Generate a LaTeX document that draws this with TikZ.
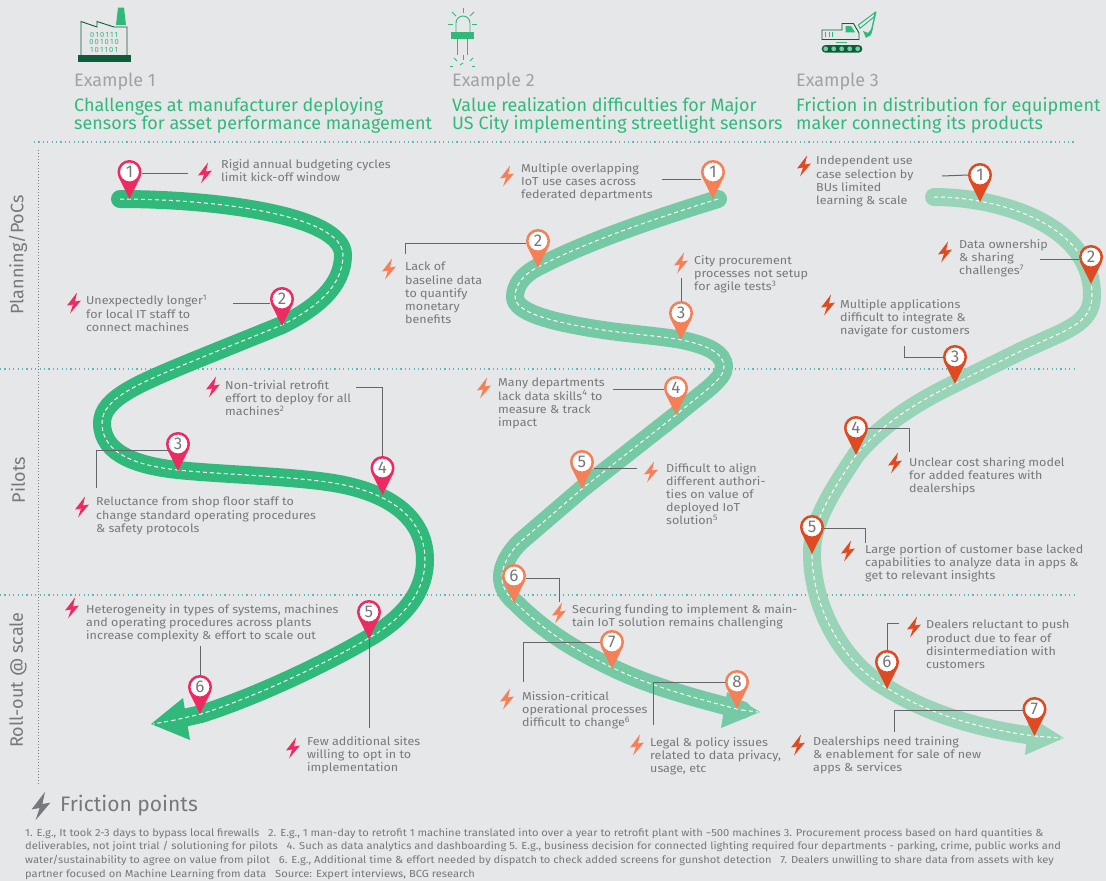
\documentclass[tikz,border=0pt]{standalone}
\usepackage{fontspec}
\setmainfont{Fira Sans}
\newfontfamily\widefont[FakeStretch=1.09]{Fira Sans}

\definecolor{paper}{HTML}{E6E7E8}
\definecolor{roadone}{HTML}{30B97B}
\definecolor{roadtwo}{HTML}{75C9A4}
\definecolor{roadthree}{HTML}{99D4B9}
\definecolor{pinone}{HTML}{EE2A62}
\definecolor{pintwo}{HTML}{F58058}
\definecolor{pinthree}{HTML}{E04A23}
\definecolor{notegray}{HTML}{77787B}
\definecolor{headgray}{HTML}{A0A2A5}
\definecolor{leafdark}{HTML}{0F5C3A}
\definecolor{sepline}{HTML}{5FB5B8}

\tikzset{
  road/.style={line width=18pt, line cap=round, postaction={lane}},
  lane/.style={draw=white, line width=1pt, line cap=butt, dash pattern=on 4pt off 3pt},
  leader/.style={draw=notegray!85!black, line width=1pt},
  pinhead/.style={circle, fill=white, line width=2.5pt, minimum size=21.5pt, inner sep=0pt,
    text=notegray, font=\fontsize{17}{17}\selectfont},
  note/.style={anchor=north west, inner sep=0pt, align=left, text=notegray,
    font=\widefont\fontsize{11.5}{13.2}\selectfont},
  exhead/.style={anchor=west, inner sep=0pt, text=headgray, font=\fontsize{18}{18}\selectfont},
  extitle/.style={anchor=north west, inner sep=0pt, align=left, text=roadone,
    font=\fontsize{17.95}{18.4}\selectfont},
  phase/.style={rotate=90, inner sep=0pt, text=notegray, font=\fontsize{18}{18}\selectfont},
  sep/.style={draw=sepline, line width=1.2pt, dash pattern=on 1.2pt off 3.2pt},
  pics/bolt/.style={code={
    \fill[#1] (3,-10.5) -- (-7,2.5) -- (-1,1.5) -- (-4,10.5) -- (7,-2.5) -- (1,-1.5) -- cycle;}},
}

\newcommand{\pinmark}[5]{%
  \fill[#4] (#2-10.8,#3+5.3) -- (#2,#3+27) -- (#2+10.8,#3+5.3) -- cycle;
  \coordinate (#1t) at (#2,#3+27);
  \node[pinhead, draw=#4] (#1) at (#2,#3) {#5};}

\begin{document}
\begin{tikzpicture}[x=1pt, y=-1pt]

  \fill[paper] (0,0) rectangle (1106,881);
  \useasboundingbox (0,0) rectangle (1106,881);

  % rows
  \coordinate (s0a) at (34,142);   \coordinate (s0b) at (1075,142);
  \coordinate (s1a) at (0,369);    \coordinate (s1b) at (1075,369);
  \coordinate (s2a) at (0,595);    \coordinate (s2b) at (1075,595);
  \coordinate (s3a) at (38,150);   \coordinate (s3b) at (38,785);
  \draw[sep] (s0a) -- (s0b);
  \draw[sep] (s1a) -- (s1b);
  \draw[sep] (s2a) -- (s2b);
  \draw[draw=notegray, line width=0.8pt, dash pattern=on 1pt off 2pt] (s3a) -- (s3b);
  \node[phase] (plan)  at (18,255) {Planning/PoCs};
  \node[phase] (pilot) at (18,480) {Pilots};
  \node[phase] (roll)  at (18,680) {Roll-out @ scale};

  % headers
  \node[exhead] (ex1) at (74,82)  {Example 1};
  \node[exhead] (ex2) at (452,82) {Example 2};
  \node[exhead] (ex3) at (796,82) {Example 3};
  \node[extitle] (t1) at (74,97)  {Challenges at manufacturer deploying\\sensors for asset performance management};
  \node[extitle] (t2) at (452,97) {Value realization difficulties for Major\\US City implementing streetlight sensors};
  \node[extitle] (t3) at (796,97) {Friction in distribution for equipment\\maker connecting its products};

  % factory
  \fill[roadone] (118,7.5) -- (124,7.5) -- (126,25) -- (116,25) -- cycle;
  \draw[leafdark, line width=0.9pt] (81,55) -- (81,21.5) -- (97,27) -- (97,21.5) -- (114,27) -- (127,27) -- (127,55);
  \fill[leafdark] (78,55) rectangle (131,61.5);
  \node[inner sep=0pt, text=roadone, font=\fontsize{7.5}{7.5}\selectfont] (bin1) at (104,34.5) {0\,1\,0\,1\,1\,1};
  \node[inner sep=0pt, text=roadone, font=\fontsize{7.5}{7.5}\selectfont] (bin2) at (104,42)   {0\,0\,1\,0\,1\,0};
  \node[inner sep=0pt, text=roadone, font=\fontsize{7.5}{7.5}\selectfont] (bin3) at (104,49.5) {1\,0\,1\,1\,0\,1};

  % led
  \draw[roadone, line width=0.9pt] (456,32) -- (456,23) arc[start angle=180, end angle=360, radius=7] -- (470,32);
  \fill[roadone] (451,32) rectangle (474,39);
  \draw[roadone, line width=0.9pt] (457,39) -- (457,55);
  \draw[roadone, line width=0.9pt] (467,39) -- (467,55);
  \draw[roadone, line width=0.9pt] (463,8) -- (463,13);
  \draw[roadone, line width=0.9pt] (452,12) -- (456,16);
  \draw[roadone, line width=0.9pt] (474,12) -- (470,16);
  \draw[roadone, line width=0.9pt] (448,24) -- (453,24);
  \draw[roadone, line width=0.9pt] (472,24) -- (477,24);
  \draw[roadone, line width=0.9pt] (463,55) -- (463,60);
  \draw[roadone, line width=0.9pt] (454,58) -- (457,61);
  \draw[roadone, line width=0.9pt] (473,58) -- (470,61);
  \draw[roadone, line width=0.9pt] (450,66) -- (453,66);
  \draw[roadone, line width=0.9pt] (463,63) -- (460,65);
  \draw[roadone, line width=0.9pt] (472,66) -- (475,66);

  % excavator
  \draw[leafdark, line width=0.9pt] (822,30) -- (842,30) -- (842,23.5) -- (853.5,23.5) -- (859,33) -- (859,39.5) -- (822,39.5) -- cycle;
  \fill[roadone] (845.7,26) -- (851,26) -- (855,32.3) -- (845.7,32.3) -- cycle;
  \draw[roadone, line width=0.9pt] (825,32.3) -- (825,37.3);
  \draw[roadone, line width=0.9pt] (829,32.3) -- (829,37.3);
  \draw[roadone, line width=0.9pt] (832.7,32.3) -- (832.7,37.3);
  \fill[roadone] (836,41.5) rectangle (847,42.8);
  \fill[leafdark, rounded corners=3.8pt] (821.7,45) rectangle (862.3,52.7);
  \fill[roadtwo] (825.7,48.8) circle[radius=2.4];
  \fill[roadtwo] (833.7,48.8) circle[radius=2.4];
  \fill[roadtwo] (841.7,48.8) circle[radius=2.4];
  \fill[roadtwo] (849.7,48.8) circle[radius=2.4];
  \fill[roadtwo] (857.7,48.8) circle[radius=2.4];
  \draw[roadone, line width=1pt, line join=round] (858.3,25) -- (875.7,12) -- (874,17) -- (860,28.3) -- cycle;
  \draw[roadone, line width=1.4pt] (875.7,12) -- (871,33);
  \fill[roadone] (863,31) -- (868,33) -- (873,27) -- (871,35) -- (866,37.8) -- cycle;

  % first road
  \fill[roadone] (151,724) -- (183,698) -- (190,740) -- cycle;
  \draw[road, draw=roadone] (120,199) .. controls (215,199) and (343,215) .. (343,255)
    .. controls (343,285) and (318,307) .. (282,325)
    -- (193,361) .. controls (140,383) and (102,398) .. (102,423)
    .. controls (102,455) and (140,466) .. (178,470)
    .. controls (215,474) and (285,476) .. (327,482)
    .. controls (385,490) and (425,515) .. (425,560)
    .. controls (425,595) and (400,620) .. (369,638)
    .. controls (325,664) and (255,697) .. (201,714)
    -- (175,720);
  \draw[lane] (175,720) -- (153,724);

  % second road
  \fill[roadtwo] (760,712) -- (727,692) -- (721,728) -- cycle;
  \draw[road, draw=roadtwo] (718,199) .. controls (660,217) and (590,240) .. (538,267)
    .. controls (522,275) and (515,286) .. (515,297)
    .. controls (515,312) and (550,322) .. (603,330)
    .. controls (630,334) and (660,336) .. (682,340)
    .. controls (705,345) and (724,352) .. (724,367)
    .. controls (724,380) and (700,394) .. (676,415)
    -- (583,488) -- (520,542)
    .. controls (510,552) and (502,565) .. (502,577)
    .. controls (502,587) and (507,595) .. (515,602)
    .. controls (545,632) and (575,650) .. (613,668)
    .. controls (650,686) and (695,698) .. (737,709)
    -- (742,710);
  \draw[lane] (742,710) -- (758,712);

  % third road
  \fill[roadthree] (1064,738) -- (1029,716) -- (1025,755) -- cycle;
  \draw[road, draw=roadthree] (934,197) .. controls (1000,197) and (1092,225) .. (1092,295)
    .. controls (1092,325) and (1065,330) .. (1019,352)
    -- (956,383) .. controls (925,398) and (885,420) .. (856,455)
    .. controls (835,487) and (812,520) .. (812,553)
    .. controls (812,610) and (845,665) .. (887,688)
    .. controls (930,715) and (985,730) .. (1035,736)
    -- (1040,736.5);
  \draw[lane] (1040,736.5) -- (1062,738);

  % pins
  \pinmark{a1}{129.5}{172}{pinone}{1}
  \pinmark{a2}{282}{299}{pinone}{2}
  \pinmark{a3}{178}{444}{pinone}{3}
  \pinmark{a4}{382.5}{468}{pinone}{4}
  \pinmark{a5}{369}{612}{pinone}{5}
  \pinmark{a6}{200}{687}{pinone}{6}
  \pinmark{b1}{713}{172}{pintwo}{1}
  \pinmark{b2}{538}{241}{pintwo}{2}
  \pinmark{b3}{681}{313}{pintwo}{3}
  \pinmark{b4}{676}{388}{pintwo}{4}
  \pinmark{b5}{582}{462}{pintwo}{5}
  \pinmark{b6}{514}{576}{pintwo}{6}
  \pinmark{b7}{612}{642}{pintwo}{7}
  \pinmark{b8}{737}{682}{pintwo}{8}
  \pinmark{c1}{980}{175}{pinthree}{1}
  \pinmark{c2}{1091}{257}{pinthree}{2}
  \pinmark{c3}{955}{357}{pinthree}{3}
  \pinmark{c4}{856}{428}{pinthree}{4}
  \pinmark{c5}{812}{527}{pinthree}{5}
  \pinmark{c6}{887}{662}{pinthree}{6}
  \pinmark{c7}{1034.5}{709}{pinthree}{7}

  % leaders
  \coordinate (la1) at (188,173);  \draw[leader] (a1.east |- la1) -- (la1);
  \coordinate (la2) at (233,303);  \draw[leader] (a2.west |- la2) -- (la2);
  \coordinate (la3) at (96,488);   \draw[leader] (a3.213) -| (la3);
  \coordinate (la4) at (356,387);  \draw[leader] (a4.north) |- (la4);
  \coordinate (la5) at (369,728);  \draw[leader] (a5t) -- (la5);
  \coordinate (la6) at (200,646);  \draw[leader] (a6.north) -- (la6);
  \coordinate (lb1) at (662,179);  \draw[leader] (b1.west |- lb1) -- (lb1);
  \coordinate (lb2) at (405,254);  \draw[leader] (b2.190) -| (lb2);
  \coordinate (lb3) at (681,278);  \draw[leader] (b3.north) -- (lb3);
  \coordinate (lb4) at (613,389);  \draw[leader] (b4.west |- lb4) -- (lb4);
  \coordinate (lb5) at (637,468);  \draw[leader] (b5.east |- lb5) -- (lb5);
  \coordinate (lb6) at (559,602);  \draw[leader] (b6.-10) -| (lb6);
  \coordinate (lb7) at (523,682);  \draw[leader] (b7.west) -| (lb7);
  \coordinate (lb8) at (653,725);  \draw[leader] (b8.west) -| (lb8);
  \coordinate (lc1) at (942,176);  \draw[leader] (c1.west) -- (lc1);
  \coordinate (lc2) at (1040,259); \draw[leader] (c2.west |- lc2) -- (lc2);
  \coordinate (lc3) at (904,346);  \draw[leader] (c3.west) -| (lc3);
  \coordinate (lc4) at (909,452);  \draw[leader] (c4.east) -| (lc4);
  \coordinate (lc5) at (865,543);  \draw[leader] (c5.-8) -| (lc5);
  \coordinate (lc6) at (899,623);  \draw[leader] (c6.north) |- (lc6);
  \coordinate (lc7) at (894,732);  \draw[leader] (c7.187) -| (lc7);

  % notes, first road
  \pic at (205,173) {bolt=pinone};
  \node[note] (na1) at (221,159) {Rigid annual budgeting cycles\\limit kick-off window};
  \pic at (74,303) {bolt=pinone};
  \node[note] (na2) at (86,295) {Unexpectedly longer\textsuperscript{1}\\for local IT staff to\\connect machines};
  \pic at (213,387) {bolt=pinone};
  \node[note] (na3) at (225,380) {Non-trivial retrofit\\effort to deploy for all\\machines\textsuperscript{2}};
  \pic at (82,507) {bolt=pinone};
  \node[note] (na4) at (96,497) {Reluctance from shop floor staff to\\change standard operating procedures\\\& safety protocols};
  \pic at (72,608) {bolt=pinone};
  \node[note] (na5) at (86,604) {Heterogeneity in types of systems, machines\\and operating procedures across plants\\increase complexity \& effort to scale out};
  \pic at (293,748) {bolt=pinone};
  \node[note] (na6) at (307,736) {Few additional sites\\willing to opt in to\\implementation};

  % notes, second road
  \pic at (507,176) {bolt=pintwo};
  \node[note] (nb1) at (521,163) {Multiple overlapping\\IoT use cases across\\federated departments};
  \pic at (389,269) {bolt=pintwo};
  \node[note] (nb2) at (405,262) {Lack of\\baseline data\\to quantify\\monetary\\benefits};
  \pic at (681,263) {bolt=pintwo};
  \node[note] (nb3) at (694,255) {City procurement\\processes not setup\\for agile tests\textsuperscript{3}};
  \pic at (484,388) {bolt=pintwo};
  \node[note] (nb4) at (498,378) {Many departments\\lack data skills\textsuperscript{4} to\\measure \& track\\impact};
  \pic at (651,472) {bolt=pintwo};
  \node[note] (nb5) at (666,463) {Difficult to align\\different authori-\\ties on value of\\deployed IoT\\solution\textsuperscript{5}};
  \pic at (559,613) {bolt=pintwo};
  \node[note] (nb6) at (572,604) {Securing funding to implement \& main-\\tain IoT solution remains challenging};
  \pic at (507,699) {bolt=pintwo};
  \node[note] (nb7) at (522,691) {Mission-critical\\operational processes\\difficult to change\textsuperscript{6}};
  \pic at (637,745) {bolt=pintwo};
  \node[note] (nb8) at (650,737) {Legal \& policy issues\\related to data privacy,\\usage, etc};

  % notes, third road
  \pic at (804,166) {bolt=pinthree};
  \node[note] (nc1) at (816,156) {Independent use\\case selection by\\BUs limited\\learning \& scale};
  \pic at (945,252) {bolt=pinthree};
  \node[note] (nc2) at (959,239) {Data ownership\\\& sharing\\challenges\textsuperscript{7}};
  \pic at (828,305) {bolt=pinthree};
  \node[note] (nc3) at (840,299) {Multiple applications\\difficult to integrate \&\\navigate for customers};
  \pic at (895,463) {bolt=pinthree};
  \node[note] (nc4) at (909,457) {Unclear cost sharing model\\for added features with\\dealerships};
  \pic at (848,551) {bolt=pinthree};
  \node[note] (nc5) at (865,544) {Large portion of customer base lacked\\capabilities to analyze data in apps \&\\get to relevant insights};
  \pic at (914,627) {bolt=pinthree};
  \node[note] (nc6) at (926,620) {Dealers reluctant to push\\product due to fear of\\disintermediation with\\customers};
  \pic at (798,745) {bolt=pinthree};
  \node[note] (nc7) at (813,736) {Dealerships need training\\\& enablement for sale of new\\apps \& services};

  % legend and footnotes
  \pic[scale=1.35] at (41,806) {bolt=notegray};
  \node[anchor=west, inner sep=0pt, text=notegray, font=\fontsize{21}{21}\selectfont] (legend) at (60,806) {Friction points};
  \node[anchor=north west, inner sep=0pt, align=left, text=notegray, font=\widefont\fontsize{10.24}{13.7}\selectfont] (foot) at (25,828)
    {1. E.g., It took 2-3 days to bypass local firewalls \ \ 2. E.g., 1 man-day to retrofit 1 machine translated into over a year to retrofit plant with \textasciitilde 500 machines 3. Procurement process based on hard quantities \&\\
     deliverables, not joint trial / solutioning for pilots \ \ 4. Such as data analytics and dashboarding 5. E.g., business decision for connected lighting required four departments - parking, crime, public works and\\
     water/sustainability to agree on value from pilot \ \ 6. E.g., Additional time \& effort needed by dispatch to check added screens for gunshot detection \ \ 7. Dealers unwilling to share data from assets with key\\
     partner focused on Machine Learning from data \ \ Source: Expert interviews, BCG research};

\end{tikzpicture}
\end{document}
